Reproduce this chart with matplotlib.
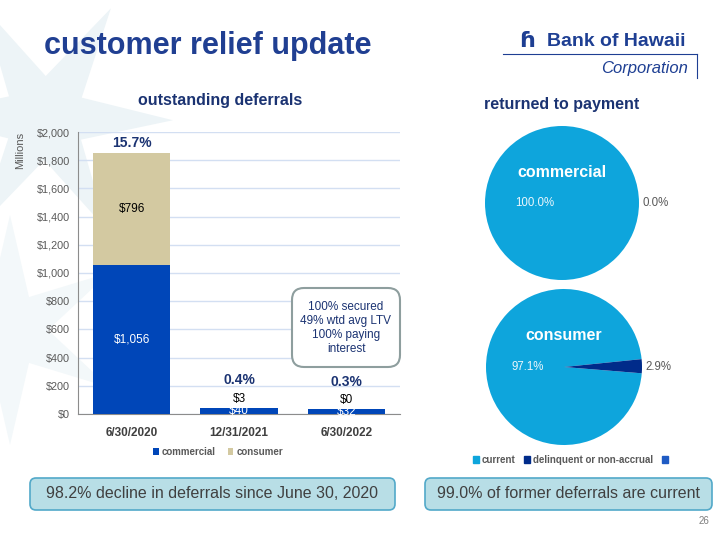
import matplotlib
matplotlib.use("Agg")
import matplotlib.pyplot as plt
from matplotlib.patches import FancyBboxPatch, Patch, Polygon
import numpy as np

plt.rcParams['font.family'] = ['Liberation Sans', 'DejaVu Sans']

# ---------------- data ----------------
dates = ["6/30/2020", "12/31/2021", "6/30/2022"]
commercial = [1056, 40, 32]
consumer = [796, 3, 0]
pct_of_loans = ["15.7%", "0.4%", "0.3%"]
y_ticks = [0, 200, 400, 600, 800, 1000, 1200, 1400, 1600, 1800, 2000]

pie_labels = ["current", "delinquent or non-accrual", ""]
commercial_pie = [100.0, 0.0]
consumer_pie = [97.1, 2.9]

callout_lines = ["100% secured", "49% wtd avg LTV", "100% paying", "interest"]
left_note = "98.2% decline in deferrals since June 30, 2020"
right_note = "99.0% of former deferrals are current"

# ---------------- colours ----------------
C_COMM = "#0046B8"
C_CONS = "#D3C9A1"
C_CUR = "#0EA5DC"
C_DEL = "#002B8A"
C_THIRD = "#1F5BC4"
NAVY = "#1B3372"
TITLE = "#203F92"
GRAY = "#595959"

W, H = 720, 540
fig = plt.figure(figsize=(7.2, 5.4), dpi=100)


def fr(x0, y0, x1, y1):
    """pixel box (top-left origin) -> figure fraction rect"""
    return [x0 / W, 1 - y1 / H, (x1 - x0) / W, (y1 - y0) / H]


def star(cx, cy, r_out, r_in, n, rot):
    pts = []
    for k in range(2 * n):
        ang = np.pi / n * k + rot
        r = r_out if k % 2 == 0 else r_in
        pts.append((cx + r * np.cos(ang), cy + r * np.sin(ang)))
    return pts


# background layer (pixel coordinates)
bg = fig.add_axes([0, 0, 1, 1], zorder=0)
bg.set_xlim(0, W)
bg.set_ylim(H, 0)
bg.axis("off")
bg.add_patch(Polygon(star(45, 118, 128, 42, 6, np.deg2rad(-59)), closed=True,
                     facecolor="#EDF4F7", edgecolor="none"))
bg.add_patch(Polygon(star(10, 330, 115, 38, 6, np.deg2rad(-30)), closed=True,
                     facecolor="#F3F8FA", edgecolor="none"))

# ---------------- bar chart ----------------
ax = fig.add_axes(fr(78, 132, 400, 414), zorder=2)
ax.set_facecolor("none")
x = np.arange(len(dates))
bw = 0.72
b1 = ax.bar(x, commercial, bw, color=C_COMM, label="commercial", zorder=3)
b2 = ax.bar(x, consumer, bw, bottom=commercial, color=C_CONS, label="consumer", zorder=3)
ax.set_xlim(-0.5, 2.5)
ax.set_ylim(0, 2000)
ax.set_yticks(y_ticks)
ax.set_yticklabels([f"${v:,}" for v in y_ticks], color=GRAY, fontsize=7.8)
ax.set_xticks(x)
ax.set_xticklabels(dates, fontsize=8.5, fontweight="bold", color="#404040")
ax.tick_params(axis="both", length=0, pad=6)
ax.tick_params(axis="x", pad=9)
ax.grid(axis="y", color="#D3DFF2", linewidth=1, zorder=0)
for s in ["top", "right"]:
    ax.spines[s].set_visible(False)
ax.spines["left"].set_color("#8C8C8C")
ax.spines["bottom"].set_color("#8C8C8C")

for i in range(len(dates)):
    t = ax.text(x[i], commercial[i] / 2, f"${commercial[i]:,}", ha="center", va="center",
                color="white", fontsize=8.5, zorder=4)
    t.set_clip_path(b1.patches[i])
    top = commercial[i] + consumer[i]
    if consumer[i] > 200:
        ax.text(x[i], commercial[i] + consumer[i] / 2, f"${consumer[i]:,}", ha="center",
                va="center", color="black", fontsize=8.5, zorder=4)
        ax.annotate(pct_of_loans[i], (x[i], top), xytext=(0, 7), textcoords="offset points",
                    ha="center", va="center", fontsize=10, fontweight="bold", color=NAVY)
    else:
        ax.annotate(f"${consumer[i]:,}", (x[i], top), xytext=(0, 6.5), textcoords="offset points",
                    ha="center", va="center", fontsize=8.5, color="black")
        ax.annotate(pct_of_loans[i], (x[i], top), xytext=(0, 20), textcoords="offset points",
                    ha="center", va="center", fontsize=10, fontweight="bold", color=NAVY)

fig.text(20 / W, 1 - 150 / H, "Millions", rotation=90, ha="center", va="center",
         fontsize=8, color=GRAY)

fig.legend(handles=[b1, b2], labels=["commercial", "consumer"], loc="center",
           bbox_to_anchor=(218 / W, 1 - 452 / H), ncol=2, frameon=False,
           handlelength=0.6, handleheight=0.6, handletextpad=0.3, columnspacing=1.2,
           prop={"size": 7, "weight": "bold"}, labelcolor=GRAY)

# ---------------- pies ----------------
def draw_pie(cxp, cyp, r, vals, title, startangle):
    pa = fig.add_axes(fr(cxp - r, cyp - r, cxp + r, cyp + r), zorder=2)
    pa.pie(vals, colors=[C_CUR, C_DEL], startangle=startangle, counterclock=True,
           radius=1, wedgeprops={"linewidth": 0})
    pa.set_xlim(-1, 1)
    pa.set_ylim(-1, 1)
    pa.set_aspect("equal")
    pa.axis("off")
    pa.text(0, 0.40, title, ha="center", va="center", color="white", fontsize=11.5,
            fontweight="bold")
    return pa

pa1 = draw_pie(562, 203, 77, commercial_pie, "commercial", 0)
pa1.text(-0.35, 0, f"{commercial_pie[0]:.1f}%", ha="center", va="center", color="#EAF6FC", fontsize=8.3)
pa1.text(1.04, 0, f"{commercial_pie[1]:.1f}%", ha="left", va="center", color=GRAY, fontsize=8.3)

pa2 = draw_pie(564, 367, 78, consumer_pie, "consumer", 5.8)
pa2.text(-0.46, 0, f"{consumer_pie[0]:.1f}%", ha="center", va="center", color="#EAF6FC", fontsize=8.3)
pa2.text(1.04, 0, f"{consumer_pie[1]:.1f}%", ha="left", va="center", color=GRAY, fontsize=8.3)

fig.legend(handles=[Patch(color=C_CUR), Patch(color=C_DEL), Patch(color=C_THIRD)],
           labels=pie_labels, loc="center", bbox_to_anchor=(572 / W, 1 - 460 / H), ncol=3,
           frameon=False, handlelength=0.6, handleheight=0.6, handletextpad=0.3,
           columnspacing=0.9, prop={"size": 7, "weight": "bold"}, labelcolor=GRAY)

# ---------------- overlay: titles, boxes ----------------
ov = fig.add_axes([0, 0, 1, 1], zorder=5)
ov.set_xlim(0, W)
ov.set_ylim(H, 0)
ov.axis("off")
ov.patch.set_alpha(0)

ov.text(44, 46, "customer relief update", ha="left", va="center", fontsize=22,
        fontweight="bold", color=TITLE)
ov.text(220, 101, "outstanding deferrals", ha="center", va="center", fontsize=11.5,
        fontweight="bold", color=NAVY)
ov.text(562, 104, "returned to payment", ha="center", va="center", fontsize=11.5,
        fontweight="bold", color=NAVY)

# logo
ov.text(547, 42, "Bank of Hawaii", ha="left", va="center", fontsize=14,
        fontweight="bold", color="#1E3F93")
ov.text(527, 41, "ɦ", ha="center", va="center", fontsize=16, fontweight="bold",
        color="#1E3F93", family="DejaVu Sans")
ov.plot([503, 697], [54, 54], color="#1E3F93", lw=0.8)
ov.plot([697, 697], [54, 78], color="#1E3F93", lw=0.8)
ov.text(688, 68, "Corporation", ha="right", va="center", fontsize=12,
        style="italic", color="#1E3F93")

# callout
ov.add_patch(FancyBboxPatch((292, 288), 108, 79, boxstyle="round,pad=0,rounding_size=12",
                            facecolor="white", edgecolor="#8E9E9E", linewidth=1.5))
for k, line in enumerate(callout_lines):
    ov.text(346, 307 + 14 * k, line, ha="center", va="center", fontsize=8.5, color=NAVY)

# bottom boxes
for (x0, x1, txt) in [(30, 395, left_note), (425, 712, right_note)]:
    ov.add_patch(FancyBboxPatch((x0, 478), x1 - x0, 32, boxstyle="round,pad=0,rounding_size=6",
                                facecolor="#B8DEE6", edgecolor="#52A9C9", linewidth=1.2))
    ov.text((x0 + x1) / 2, 494, txt, ha="center", va="center", fontsize=11.5, color="#404040")

ov.text(709, 521, "26", ha="right", va="center", fontsize=7, color="#7F7F7F")

fig.savefig("out.png", dpi=100)
